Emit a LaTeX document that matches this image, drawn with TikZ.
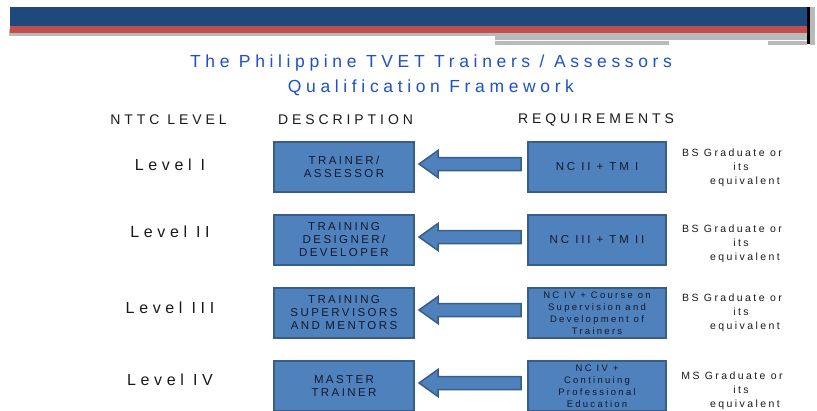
\documentclass[tikz,border=0pt]{standalone}
\usepackage{fontspec}
\setmainfont{Liberation Sans}
\usetikzlibrary{calc}

\definecolor{bannerblue}{HTML}{1F497D}
\definecolor{bannerred}{HTML}{C0504D}
\definecolor{boxfill}{HTML}{4F81BD}
\definecolor{boxline}{HTML}{385D8A}
\definecolor{titleblue}{RGB}{30,80,200}
\definecolor{boxtext}{RGB}{20,25,45}
\definecolor{plaintext}{RGB}{25,25,25}

\tikzset{
    titletext/.style = {text = titleblue, align = center,
        font = {\fontsize{17.5}{25}\selectfont\addfontfeature{LetterSpace=26.5}}},
    headtext/.style = {text = plaintext,
        font = {\fontsize{14}{16}\selectfont\addfontfeature{LetterSpace=28}}},
    leveltext/.style = {text = plaintext,
        font = {\fontsize{16}{18}\selectfont\addfontfeature{LetterSpace=29}}},
    notetext/.style = {text = plaintext, align = center,
        font = {\fontsize{10.5}{14}\selectfont\addfontfeature{LetterSpace=23}}},
    descbox/.style = {draw = boxline, fill = boxfill, line width = 2pt,
        minimum width = 140, minimum height = 50, inner sep = 0pt,
        text = boxtext, align = center,
        font = {\fontsize{11.5}{13}\selectfont\addfontfeature{LetterSpace=21}}},
    reqbox/.style = {descbox, minimum width = 138,
        font = {\fontsize{11.5}{13}\selectfont\addfontfeature{LetterSpace=25}}},
    reqsmall/.style = {reqbox,
        font = {\fontsize{9.5}{12}\selectfont\addfontfeature{LetterSpace=24}}},
    fatarrow/.style = {draw = boxline, fill = boxfill, line width = 1.5pt,
        to path = {let \p1 = (\tikztostart), \p2 = (\tikztotarget) in
            (\x2+4pt, \y1+3pt) -- (\x2+23pt, \y1+16.5pt) -- (\x2+23pt, \y1+9.5pt)
            -- (\x1-6pt, \y1+9.5pt) -- (\x1-6pt, \y1-3.5pt) -- (\x2+23pt, \y1-3.5pt)
            -- (\x2+23pt, \y1-10.5pt) -- cycle}}
}

\begin{document}
\begin{tikzpicture}[x = 1pt, y = -1pt]
    \useasboundingbox (0, 0) rectangle (817, 410);

    % banner
    \fill [bannerblue] (10, 7) rectangle (807, 26);
    \fill [bannerred] (10, 26) rectangle (807, 33);
    \fill [gray!55] (9, 33) rectangle (495, 36);
    \fill [gray!55] (9, 29) rectangle (10, 36);
    \fill [gray!55] (495, 33) rectangle (807, 39.5);
    \fill [gray!55] (495, 41) rectangle (669, 45);
    \fill [gray!55] (768, 41) rectangle (807, 45);
    \fill [black] (807, 7) rectangle (809.5, 44);
    \fill [gray!55] (810, 7) rectangle (815, 45);

    \node [titletext] (title) at (431, 75.5) {The Philippine TVET Trainers / Assessors\\Qualification Framework};

    \node [headtext] (hlevel) at (168.5, 120) {NTTC LEVEL};
    \node [headtext] (hdesc) at (345.5, 120) {DESCRIPTION};
    \node [headtext] (hreq) at (596, 120) {REQUIREMENTS};

    \node [leveltext] (l1) at (170, 165) {Level I};
    \node [descbox] (d1) at (344, 167) {TRAINER/\\ASSESSOR};
    \node [reqbox] (r1) at (597, 167) {NC II + TM I};
    \node [notetext] (n1) at (738, 168) {BS Graduate or\hspace*{12pt}\\\hspace*{6pt}its\\\hspace*{14pt}equivalent};
    \draw [fatarrow] (r1.west) to (d1.east);

    \node [leveltext] (l2) at (170, 232) {Level II};
    \node [descbox] (d2) at (344, 240) {TRAINING\\DESIGNER/\\DEVELOPER};
    \node [reqbox] (r2) at (597, 240) {NC III + TM II};
    \node [notetext] (n2) at (738, 244) {BS Graduate or\hspace*{12pt}\\\hspace*{6pt}its\\\hspace*{14pt}equivalent};
    \draw [fatarrow] (r2.west) to (d2.east);

    \node [leveltext] (l3) at (170, 308) {Level III};
    \node [descbox] (d3) at (344, 313) {TRAINING\\SUPERVISORS\\AND MENTORS};
    \node [reqsmall] (r3) at (597, 313) {NC IV + Course on\\Supervision and\\Development of\\Trainers};
    \node [notetext] (n3) at (738, 313) {BS Graduate or\hspace*{12pt}\\\hspace*{6pt}its\\\hspace*{14pt}equivalent};
    \draw [fatarrow] (r3.west) to (d3.east);

    \node [leveltext] (l4) at (170, 380) {Level IV};
    \node [descbox] (d4) at (344, 386) {MASTER\\TRAINER};
    \node [reqsmall] (r4) at (597, 386) {NC IV +\\Continuing\\Professional\\Education};
    \node [notetext] (n4) at (738, 391) {MS Graduate or\hspace*{12pt}\\\hspace*{6pt}its\\\hspace*{14pt}equivalent};
    \draw [fatarrow] (r4.west) to (d4.east);
\end{tikzpicture}
\end{document}
